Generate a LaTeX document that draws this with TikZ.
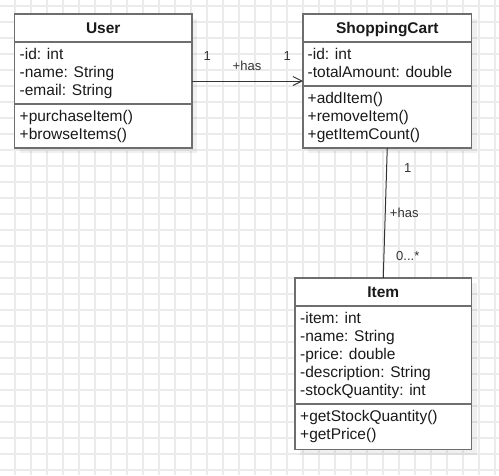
\documentclass[tikz,border=0pt]{standalone}
\usepackage{fontspec}
\setmainfont{Liberation Sans}
\usetikzlibrary{arrows.meta,calc,shadows}

\definecolor{gridcol}{HTML}{EBEBEB}
\definecolor{boxline}{HTML}{6E6E6E}
\definecolor{txt}{HTML}{1A1A1A}
\definecolor{lbltxt}{HTML}{333333}

\tikzset{
  gridline/.style={draw=gridcol, line width=1.1pt},
  classbox/.style={draw=boxline, line width=1.8pt, fill=white, rectangle,
    inner sep=0pt, outer sep=0pt, anchor=north west,
    general shadow={fill=black, opacity=0.06, shadow xshift=5pt, shadow yshift=-5pt}},
  divider/.style={draw=boxline, line width=1.6pt},
  title/.style={font=\fontsize{15.5}{18}\selectfont\bfseries, text=txt,
    inner sep=0pt, anchor=base},
  member/.style={font=\fontsize{15.5}{18}\selectfont, text=txt,
    inner sep=0pt, anchor=base west},
  assoc/.style={draw=black!80, line width=1pt},
  lbl/.style={font=\fontsize{13}{15}\selectfont, text=lbltxt, inner sep=0pt},
}

\begin{document}
\begin{tikzpicture}[x=1pt, y=-1pt]
  \useasboundingbox (0,0) rectangle (499,475);
  \fill[white] (0,0) rectangle (499,475);

  % background grid
  \foreach \gx in {15,31,...,495} \draw[gridline] (\gx,0) -- (\gx,475);
  \foreach \gy in {6,22,...,470} \draw[gridline] (0,\gy) -- (499,\gy);

  % class boxes
  \node[classbox, minimum width=177.5pt, minimum height=134pt] (user) at (14.5,14) {};
  \node[classbox, minimum width=168.5pt, minimum height=134pt] (cart) at (303,14) {};
  \node[classbox, minimum width=176.5pt, minimum height=171.5pt] (item) at (295,278) {};

  % User
  \draw[divider] (user.west |- 0,42) -- (user.east |- 0,42);
  \draw[divider] (user.west |- 0,104) -- (user.east |- 0,104);
  \node[title] (userT) at (user.north |- 0,33.6) {User};
  \node[member] (u1) at (19.5,59.5) {-id: int};
  \node[member] (u2) at (19.5,77.5) {-name: String};
  \node[member] (u3) at (19.5,95.5) {-email: String};
  \node[member] (u4) at (19.5,121.5) {+purchaseItem()};
  \node[member] (u5) at (19.5,139.5) {+browseItems()};

  % ShoppingCart
  \draw[divider] (cart.west |- 0,42) -- (cart.east |- 0,42);
  \draw[divider] (cart.west |- 0,86) -- (cart.east |- 0,86);
  \node[title] (cartT) at (cart.north |- 0,33.6) {ShoppingCart};
  \node[member] (c1) at (307.5,59.5) {-id: int};
  \node[member] (c2) at (307.5,77.5) {-totalAmount: double};
  \node[member] (c3) at (307.5,103.5) {+addItem()};
  \node[member] (c4) at (307.5,121.5) {+removeItem()};
  \node[member] (c5) at (307.5,139.5) {+getItemCount()};

  % Item
  \draw[divider] (item.west |- 0,306) -- (item.east |- 0,306);
  \draw[divider] (item.west |- 0,404) -- (item.east |- 0,404);
  \node[title] (itemT) at (item.north |- 0,297.6) {Item};
  \node[member] (i1) at (300,323.5) {-item: int};
  \node[member] (i2) at (300,341.5) {-name: String};
  \node[member] (i3) at (300,359.5) {-price: double};
  \node[member] (i4) at (300,377.5) {-description: String};
  \node[member] (i5) at (300,395.5) {-stockQuantity: int};
  \node[member] (i6) at (300,421.5) {+getStockQuantity()};
  \node[member] (i7) at (300,439.5) {+getPrice()};

  % User -> ShoppingCart association
  \draw[assoc, -{Straight Barb[length=9pt, width=9pt, line width=1pt]}] (user.east) -- (cart.west);
  \node[lbl] (m1) at ($(user.east)+(15.3,-24.7)$) {1};
  \node[lbl] (r1) at ($(user.east)+(55,-15)$) {+has};
  \node[lbl] (m2) at ($(cart.west)+(-15.7,-24.7)$) {1};

  % ShoppingCart -- Item association
  \draw[assoc] (cart.south) -- (item.north);
  \node[lbl] (m3) at ($(cart.south)+(20.5,20.3)$) {1};
  \node[lbl] (r2) at ($(cart.south)+(17,64.7)$) {+has};
  \node[lbl] (m4) at ($(item.north)+(24.5,-22)$) {0...*};
\end{tikzpicture}
\end{document}
